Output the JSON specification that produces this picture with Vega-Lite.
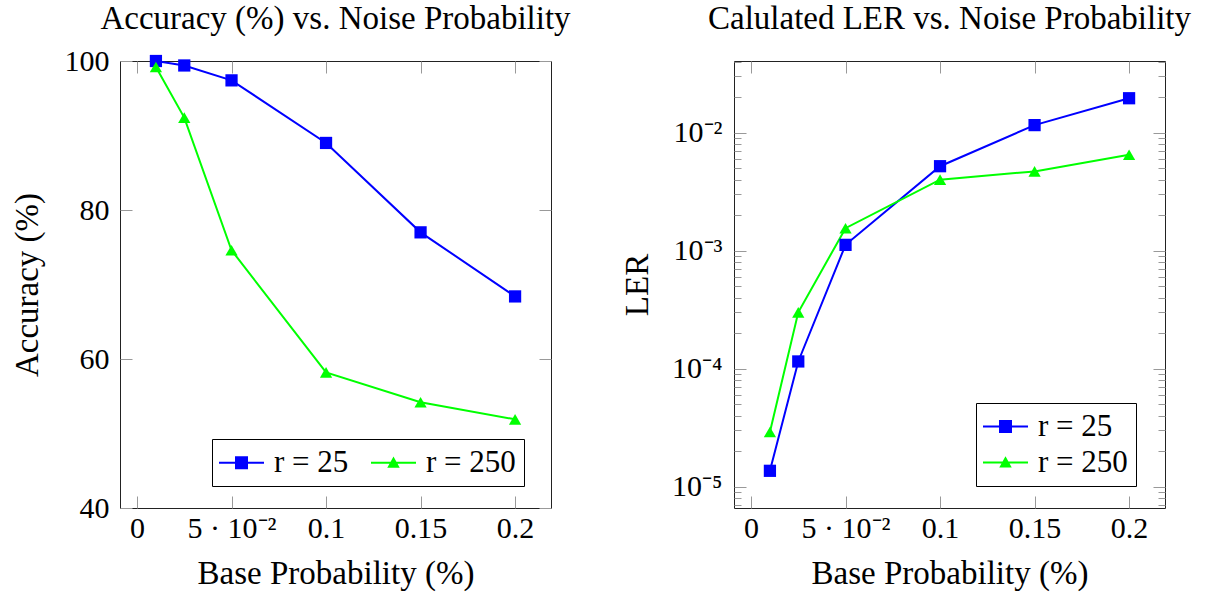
{
  "$schema": "https://vega.github.io/schema/vega-lite/v6.json",
  "padding": {"left": 10, "top": 2, "right": 5, "bottom": 5},
  "background": "white",
  "datasets": {
    "acc": [
      {"p": 0.01, "acc": 100.0, "series": "r = 25"},
      {"p": 0.025, "acc": 99.4, "series": "r = 25"},
      {"p": 0.05, "acc": 97.4, "series": "r = 25"},
      {"p": 0.1, "acc": 89.0, "series": "r = 25"},
      {"p": 0.15, "acc": 77.0, "series": "r = 25"},
      {"p": 0.2, "acc": 68.4, "series": "r = 25"},
      {"p": 0.01, "acc": 99.2, "series": "r = 250"},
      {"p": 0.025, "acc": 92.4, "series": "r = 250"},
      {"p": 0.05, "acc": 74.6, "series": "r = 250"},
      {"p": 0.1, "acc": 58.2, "series": "r = 250"},
      {"p": 0.15, "acc": 54.2, "series": "r = 250"},
      {"p": 0.2, "acc": 51.9, "series": "r = 250"}
    ],
    "ler": [
      {"p": 0.01, "ler": 0.0000136, "series": "r = 25"},
      {"p": 0.025, "ler": 0.000115, "series": "r = 25"},
      {"p": 0.05, "ler": 0.00112, "series": "r = 25"},
      {"p": 0.1, "ler": 0.0052, "series": "r = 25"},
      {"p": 0.15, "ler": 0.0116, "series": "r = 25"},
      {"p": 0.2, "ler": 0.0196, "series": "r = 25"},
      {"p": 0.01, "ler": 0.000029, "series": "r = 250"},
      {"p": 0.025, "ler": 0.0003, "series": "r = 250"},
      {"p": 0.05, "ler": 0.00155, "series": "r = 250"},
      {"p": 0.1, "ler": 0.004, "series": "r = 250"},
      {"p": 0.15, "ler": 0.0047, "series": "r = 250"},
      {"p": 0.2, "ler": 0.0065, "series": "r = 250"}
    ]
  },
  "config": {
    "font": "Liberation Serif",
    "view": {"stroke": "#222", "strokeWidth": 1},
    "axis": {
      "domain": false, "grid": false, "tickColor": "#999", "tickWidth": 1,
      "labelFont": "Liberation Serif", "labelFontSize": 30, "labelColor": "#000",
      "titleFont": "Liberation Serif", "titleFontSize": 33, "titleFontWeight": "normal", "titleColor": "#000",
      "labelFlush": false, "labelOverlap": false
    },
    "legend": {
      "labelFont": "Liberation Serif", "labelFontSize": 31, "labelColor": "#000",
      "strokeColor": "#000", "fillColor": "#fff", "cornerRadius": 0, "padding": 8
    },
    "title": {"font": "Liberation Serif", "fontSize": 33, "fontWeight": "normal", "color": "#000", "anchor": "middle", "frame": "group"}
  },
  "bounds": "flush",
  "spacing": 183,
  "hconcat": [
    {
      "width": 431, "height": 447,
      "title": {"text": "Accuracy (%) vs. Noise Probability", "offset": 10},
      "data": {"name": "acc"},
      "layer": [
        {
          "mark": {"type": "line", "strokeWidth": 2},
          "encoding": {
            "x": {"field": "p", "type": "quantitative", "scale": {"domain": [-0.009, 0.219], "nice": false, "zero": false},
              "axis": {"orient": "bottom", "values": [0, 0.05, 0.1, 0.15, 0.2], "tickSize": -12, "labelPadding": 17, "title": "Base Probability (%)", "titlePadding": 14, "titleFont": "Liberation Serif", "labelFont": "Liberation Serif",
                "labelExpr": "datum.value == 0 ? '0' : datum.value < 0.07 ? '5 · 10⁻²' : datum.value < 0.12 ? '0.1' : datum.value < 0.17 ? '0.15' : '0.2'"}},
            "y": {"field": "acc", "type": "quantitative", "scale": {"domain": [40, 100], "nice": false, "zero": false},
              "axis": {"orient": "left", "values": [40, 60, 80, 100], "tickSize": -12, "labelPadding": 23, "title": "Accuracy (%)", "titlePadding": 20, "titleFont": "Liberation Serif", "labelFont": "Liberation Serif"}},
            "color": {"field": "series", "type": "nominal", "scale": {"domain": ["r = 25", "r = 250"], "range": ["#0000ff", "#00ff00"]}, "legend": null}
          }
        },
        {
          "mark": {"type": "point", "filled": true, "opacity": 1, "size": 150},
          "encoding": {
            "x": {"field": "p", "type": "quantitative", "axis": {"orient": "top", "values": [0, 0.05, 0.1, 0.15, 0.2], "tickSize": -12, "labels": false, "title": null}},
            "y": {"field": "acc", "type": "quantitative", "axis": {"orient": "right", "values": [40, 60, 80, 100], "tickSize": -12, "labels": false, "title": null}},
            "color": {"field": "series", "type": "nominal", "scale": {"domain": ["r = 25", "r = 250"], "range": ["#0000ff", "#00ff00"]}, "legend": null},
            "shape": {"field": "series", "type": "nominal", "scale": {"domain": ["r = 25", "r = 250"], "range": ["square", "triangle-up"]}, "legend": null}
          }
        },
        {
          "transform": [{"filter": "false"}],
          "mark": {"type": "point", "filled": true, "opacity": 1},
          "encoding": {
            "x": {"field": "p", "type": "quantitative", "axis": null},
            "y": {"field": "acc", "type": "quantitative", "axis": null},
            "color": {"field": "series", "type": "nominal", "scale": {"domain": ["r = 25", "r = 250"], "range": ["#0000ff", "#00ff00"]},
              "legend": {"orient": "none", "legendX": 92, "legendY": 378, "direction": "horizontal", "columns": 2, "title": null, "symbolSize": 100, "symbolOffset": 6, "labelOffset": 17, "columnPadding": 22, "symbolStrokeWidth": 0, "symbolOpacity": 1, "labelFont": "Liberation Serif", "labelFontSize": 31}},
            "shape": {"field": "series", "type": "nominal", "scale": {"domain": ["r = 25", "r = 250"], "range": ["M-4.5,-0.2H4.5V0.2H-4.5Z M-1.3,-1.3H1.3V1.3H-1.3Z", "M-4.5,-0.2H4.5V0.2H-4.5Z M0,-1.25L1.25,1L-1.25,1Z"]},
              "legend": {"orient": "none", "legendX": 92, "legendY": 378, "direction": "horizontal", "columns": 2, "title": null, "symbolSize": 100, "symbolOffset": 6, "labelOffset": 17, "columnPadding": 22, "symbolStrokeWidth": 0, "symbolOpacity": 1, "labelFont": "Liberation Serif", "labelFontSize": 31}}
          }
        }
      ],
      "resolve": {"scale": {"color": "independent", "shape": "independent"}, "axis": {"x": "independent", "y": "independent"}}
    },
    {
      "width": 431, "height": 447,
      "title": {"text": "Calulated LER vs. Noise Probability", "offset": 25},
      "data": {"name": "ler"},
      "layer": [
        {
          "mark": {"type": "line", "strokeWidth": 2},
          "encoding": {
            "x": {"field": "p", "type": "quantitative", "scale": {"domain": [-0.009, 0.219], "nice": false, "zero": false},
              "axis": {"orient": "bottom", "values": [0, 0.05, 0.1, 0.15, 0.2], "tickSize": -12, "labelPadding": 17, "title": "Base Probability (%)", "titlePadding": 14, "titleFont": "Liberation Serif", "labelFont": "Liberation Serif",
                "labelExpr": "datum.value == 0 ? '0' : datum.value < 0.07 ? '5 · 10⁻²' : datum.value < 0.12 ? '0.1' : datum.value < 0.17 ? '0.15' : '0.2'"}},
            "y": {"field": "ler", "type": "quantitative", "scale": {"type": "log", "domain": [0.00000658, 0.04055], "nice": false, "zero": false},
              "axis": {"orient": "left", "values": [0.00001, 0.0001, 0.001, 0.01], "tickSize": -12, "labelPadding": 24, "title": "LER", "titlePadding": 17, "titleFont": "Liberation Serif", "labelFont": "Liberation Serif",
                "labelExpr": "datum.value < 0.00005 ? '10⁻⁵' : datum.value < 0.0005 ? '10⁻⁴' : datum.value < 0.005 ? '10⁻³' : '10⁻²'"}},
            "color": {"field": "series", "type": "nominal", "scale": {"domain": ["r = 25", "r = 250"], "range": ["#0000ff", "#00ff00"]}, "legend": null}
          }
        },
        {
          "mark": {"type": "point", "filled": true, "opacity": 1, "size": 150},
          "encoding": {
            "x": {"field": "p", "type": "quantitative", "axis": {"orient": "top", "values": [0, 0.05, 0.1, 0.15, 0.2], "tickSize": -12, "labels": false, "title": null}},
            "y": {"field": "ler", "type": "quantitative", "axis": {"orient": "right", "values": [0.00001, 0.0001, 0.001, 0.01], "tickSize": -12, "labels": false, "title": null}},
            "color": {"field": "series", "type": "nominal", "scale": {"domain": ["r = 25", "r = 250"], "range": ["#0000ff", "#00ff00"]}, "legend": null},
            "shape": {"field": "series", "type": "nominal", "scale": {"domain": ["r = 25", "r = 250"], "range": ["square", "triangle-up"]}, "legend": null}
          }
        },
        {
          "transform": [{"filter": "false"}],
          "mark": {"type": "point", "filled": true, "opacity": 1},
          "encoding": {
            "x": {"field": "p", "type": "quantitative", "axis": null},
            "y": {"field": "ler", "type": "quantitative", "axis": {"orient": "left", "values": [0.000007, 0.000008, 0.000009, 0.00002, 0.00003, 0.00004, 0.00005, 0.00006, 0.00007, 0.00008, 0.00009, 0.0002, 0.0003, 0.0004, 0.0005, 0.0006, 0.0007, 0.0008, 0.0009, 0.002, 0.003, 0.004, 0.005, 0.006, 0.007, 0.008, 0.009, 0.02, 0.03, 0.04], "tickSize": -7, "labels": false, "title": null}},
            "color": {"field": "series", "type": "nominal", "scale": {"domain": ["r = 25", "r = 250"], "range": ["#0000ff", "#00ff00"]},
              "legend": {"orient": "none", "legendX": 242, "legendY": 342, "direction": "vertical", "title": null, "symbolSize": 100, "symbolOffset": 6, "labelOffset": 17, "rowPadding": 4, "symbolStrokeWidth": 0, "symbolOpacity": 1, "labelFont": "Liberation Serif", "labelFontSize": 31}},
            "shape": {"field": "series", "type": "nominal", "scale": {"domain": ["r = 25", "r = 250"], "range": ["M-4.5,-0.2H4.5V0.2H-4.5Z M-1.3,-1.3H1.3V1.3H-1.3Z", "M-4.5,-0.2H4.5V0.2H-4.5Z M0,-1.25L1.25,1L-1.25,1Z"]},
              "legend": {"orient": "none", "legendX": 242, "legendY": 342, "direction": "vertical", "title": null, "symbolSize": 100, "symbolOffset": 6, "labelOffset": 17, "rowPadding": 4, "symbolStrokeWidth": 0, "symbolOpacity": 1, "labelFont": "Liberation Serif", "labelFontSize": 31}}
          }
        },
        {
          "transform": [{"filter": "false"}],
          "mark": {"type": "point"},
          "encoding": {
            "x": {"field": "p", "type": "quantitative", "axis": null},
            "y": {"field": "ler", "type": "quantitative", "axis": {"orient": "right", "values": [0.000007, 0.000008, 0.000009, 0.00002, 0.00003, 0.00004, 0.00005, 0.00006, 0.00007, 0.00008, 0.00009, 0.0002, 0.0003, 0.0004, 0.0005, 0.0006, 0.0007, 0.0008, 0.0009, 0.002, 0.003, 0.004, 0.005, 0.006, 0.007, 0.008, 0.009, 0.02, 0.03, 0.04], "tickSize": -7, "labels": false, "title": null}}
          }
        }
      ],
      "resolve": {"scale": {"color": "independent", "shape": "independent"}, "axis": {"x": "independent", "y": "independent"}}
    }
  ]
}
